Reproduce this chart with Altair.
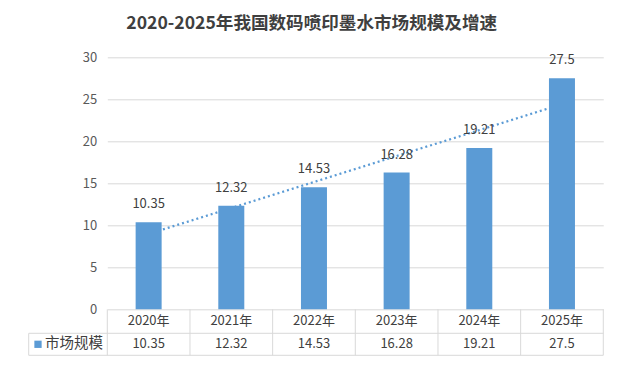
import altair as alt
import pandas as pd

# ---- data ----
years = ["2020年", "2021年", "2022年", "2023年", "2024年", "2025年"]
values = [10.35, 12.32, 14.53, 16.28, 19.21, 27.5]
value_labels = ["10.35", "12.32", "14.53", "16.28", "19.21", "27.5"]
y_ticks = [0, 5, 10, 15, 20, 25, 30]
title_text = "2020-2025年我国数码喷印墨水市场规模及增速"
series_name = "市场规模"

df = pd.DataFrame({
    "year": years,
    "value": values,
    "label": value_labels,
    "idx": list(range(len(years))),
})
bounds = pd.DataFrame({"b": [i - 0.5 for i in range(len(years) + 1)]})
legend_df = pd.DataFrame({"s": [series_name]})
title_df = pd.DataFrame({"t": [title_text]})

FONT = "Noto Sans CJK SC"
BLUE = "#5b9bd5"
GRID = "#d9d9d9"
TEXT = "#404040"

xscale = alt.Scale(domain=[-0.5, len(years) - 0.5], nice=False, zero=False, padding=0)
yscale = alt.Scale(domain=[0, 30], nice=False, padding=0)
X = alt.X("idx:Q", scale=xscale, axis=None)

base = alt.Chart(df)

trend = base.transform_regression("idx", "value", method="linear").mark_line(
    color=BLUE, strokeWidth=2.25, strokeDash=[2, 3]
).encode(x=X, y=alt.Y("value:Q", scale=yscale))

bars = base.mark_bar(color=BLUE, size=26).encode(
    x=X,
    y=alt.Y(
        "value:Q",
        scale=yscale,
        axis=alt.Axis(
            values=y_ticks, title=None, grid=True, gridColor=GRID, domain=False,
            ticks=False, labelFont=FONT, labelFontSize=13, labelColor="#595959",
            labelPadding=10.6,
        ),
    ),
)

bar_labels = base.mark_text(
    font=FONT, fontSize=13, color=TEXT, baseline="middle", dy=-18
).encode(x=X, y=alt.Y("value:Q", scale=yscale), text="label:N")

# ---- data table under the plot ----
vlines = alt.Chart(bounds).mark_rule(color=GRID, strokeWidth=1).encode(
    x=alt.X("b:Q", scale=xscale, axis=None), y=alt.value(252), y2=alt.value(298)
)
hline_mid = alt.Chart(legend_df).mark_rule(color=GRID, strokeWidth=1).encode(
    x=alt.value(-78.6), x2=alt.value(496), y=alt.value(276)
)
hline_bot = alt.Chart(legend_df).mark_rule(color=GRID, strokeWidth=1).encode(
    x=alt.value(-78.6), x2=alt.value(496), y=alt.value(298)
)
vline_left = alt.Chart(legend_df).mark_rule(color=GRID, strokeWidth=1).encode(
    x=alt.value(-78.6), y=alt.value(276), y2=alt.value(298)
)
year_text = base.mark_text(font=FONT, fontSize=13, color=TEXT, baseline="middle").encode(
    x=X, y=alt.value(264.2), text="year:N"
)
val_text = base.mark_text(font=FONT, fontSize=13, color=TEXT, baseline="middle").encode(
    x=X, y=alt.value(287), text="label:N"
)
swatch = alt.Chart(legend_df).mark_square(color=BLUE, size=53, opacity=1).encode(
    x=alt.value(-69.3), y=alt.value(287)
)
legend_text = alt.Chart(legend_df).mark_text(
    font=FONT, fontSize=14.5, color=TEXT, align="left", baseline="middle"
).encode(x=alt.value(-62.3), y=alt.value(287), text="s:N")

title = alt.Chart(title_df).mark_text(
    font=FONT, fontSize=17.6, fontWeight="bold", color="#3f3f3f",
    align="center", baseline="middle"
).encode(x=alt.value(204.4), y=alt.value(-33.1), text="t:N")

chart = alt.layer(
    trend, bars, bar_labels, vlines, hline_mid, hline_bot, vline_left,
    year_text, val_text, swatch, legend_text, title
).properties(
    width=496,
    height=252,
    autosize=alt.AutoSizeParams(type="none"),
    padding={"left": 99.3, "top": 49.3, "right": 10, "bottom": 50},
).configure_view(stroke=None)

chart.save("out.html", embed_options={"renderer": "svg", "actions": False})
